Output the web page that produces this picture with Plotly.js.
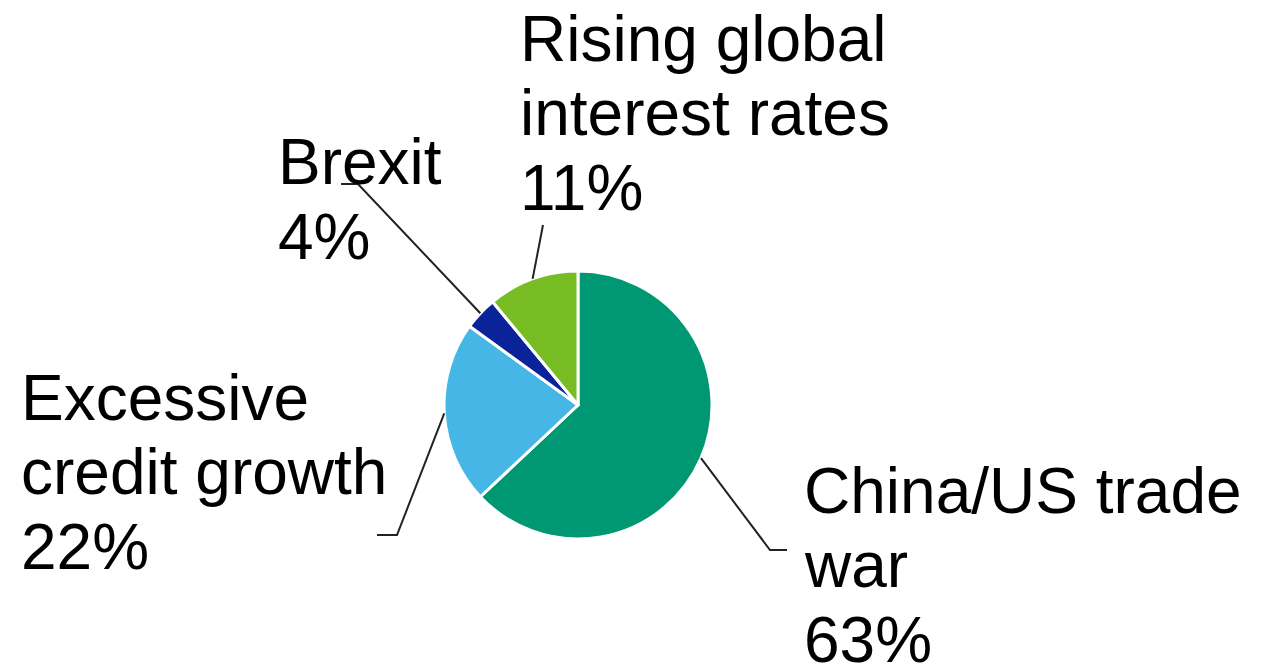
<!DOCTYPE html>
<html>
<head>
<meta charset="utf-8">
<script src="https://cdn.plot.ly/plotly-3.0.1.min.js"></script>
<style>html,body{margin:0;padding:0;background:#fff;}#chart{width:1263px;height:668px;}</style>
</head>
<body>
<div id="chart"></div>
<script>
// ---- data ----
const categories = ["China/US trade war", "Excessive credit growth", "Brexit", "Rising global interest rates"];
const values = [63, 22, 4, 11];
const colors = ["#009873", "#45B6E6", "#0A2399", "#77BC22"];
const labelLines = [
  ["China/US trade", "war"],
  ["Excessive", "credit growth"],
  ["Brexit"],
  ["Rising global", "interest rates"]
];

// ---- layout constants (pixels) ----
const W = 1263, H = 668;
const cx = 578, cy = 405, R = 134;
const fontSize = 64, lineGap = 74.5, descent = 13.5;
// label block positions: left x of text, baseline of first line
const labelPos = [
  {x: 804, y: 513},
  {x: 21,  y: 420},
  {x: 278, y: 185},
  {x: 520, y: 61}
];
// leader line elbows / ends
const leaderEnds = [
  [[770, 550], [787, 550]],
  [[397, 535], [377, 535]],
  [[358, 184], [341, 184]],
  [[543, 225], [543, 225]]
];

const total = values.reduce((a, b) => a + b, 0);

const pie = {
  type: "pie",
  labels: categories,
  values: values,
  sort: false,
  direction: "clockwise",
  rotation: 0,
  textinfo: "none",
  hoverinfo: "label+percent",
  marker: {colors: colors, line: {color: "#ffffff", width: 3}},
  domain: {x: [(cx - R) / W, (cx + R) / W], y: [(H - cy - R) / H, (H - cy + R) / H]},
  showlegend: false
};

const annotations = [];
const shapes = [];
let cum = 0;
values.forEach((v, i) => {
  const pct = Math.round(v / total * 100) + "%";
  const lines = labelLines[i].concat([pct]);
  lines.forEach((t, k) => {
    const py = labelPos[i].y + k * lineGap + descent;
    annotations.push({
      xref: "paper", yref: "paper",
      x: labelPos[i].x / W, y: 1 - py / H,
      xanchor: "left", yanchor: "bottom",
      text: t, showarrow: false, borderpad: 0, borderwidth: 0,
      font: {family: "Liberation Sans, Arial, sans-serif", size: fontSize, color: "#000"}
    });
  });
  const mid = (cum + v / 2) / total * 2 * Math.PI;
  cum += v;
  const sx = cx + R * Math.sin(mid), sy = cy - R * Math.cos(mid);
  const e = leaderEnds[i];
  shapes.push({
    type: "path", xref: "x", yref: "y",
    path: `M ${sx} ${sy} L ${e[0][0]} ${e[0][1]} L ${e[1][0]} ${e[1][1]}`,
    line: {color: "#222222", width: 2}
  });
});

const layout = {
  width: W, height: H,
  margin: {l: 0, r: 0, t: 0, b: 0},
  paper_bgcolor: "#fff", plot_bgcolor: "rgba(0,0,0,0)",
  xaxis: {range: [0, W], visible: false, fixedrange: true},
  yaxis: {range: [H, 0], visible: false, fixedrange: true},
  annotations: annotations,
  shapes: shapes,
  showlegend: false
};

Plotly.newPlot("chart", [pie], layout, {displayModeBar: false, staticPlot: true});
</script>
</body>
</html>
